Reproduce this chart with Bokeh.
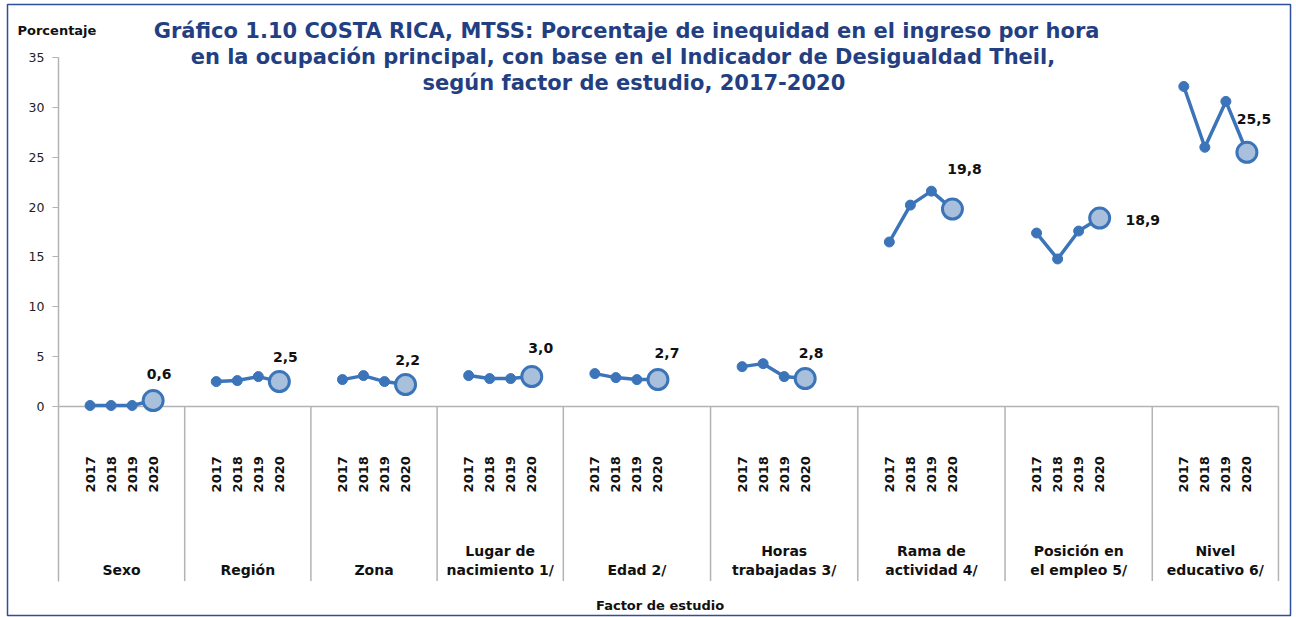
from bokeh.plotting import figure
from bokeh.models import Range1d, FixedTicker, ColumnDataSource, Label, LinearAxis
from bokeh.core.properties import value
from bokeh.embed import file_html
from bokeh.resources import INLINE
import math

# ---------------- data ----------------
groups = ["Sexo", "Región", "Zona", "Lugar de\nnacimiento 1/", "Edad 2/",
          "Horas\ntrabajadas 3/", "Rama de\nactividad 4/", "Posición en\nel empleo 5/",
          "Nivel\neducativo 6/"]
years = ["2017", "2018", "2019", "2020"]
v_sexo = [0.1, 0.1, 0.1, 0.6]
v_region = [2.5, 2.6, 3.0, 2.5]
v_zona = [2.7, 3.1, 2.5, 2.2]
v_lugar = [3.1, 2.8, 2.8, 3.0]
v_edad = [3.3, 2.9, 2.7, 2.7]
v_horas = [4.0, 4.3, 3.0, 2.8]
v_rama = [16.5, 20.2, 21.6, 19.8]
v_posicion = [17.4, 14.8, 17.6, 18.9]
v_nivel = [32.1, 26.0, 30.6, 25.5]
series = [v_sexo, v_region, v_zona, v_lugar, v_edad, v_horas, v_rama, v_posicion, v_nivel]
y_ticks = [0, 5, 10, 15, 20, 25, 30, 35]

# ---------------- layout / style ----------------
slots_per_group = [6, 6, 6, 6, 7, 7, 7, 7, 6]
first_slot = 1
label_dx = [6, 6, 2, 9, 9, 6, 12, 43, 7]
label_dy = [27, 25, 25, 29, 27, 26, 40, -2, 33]

LINE = "#3b74b9"
FILL_BIG = "#a9c0dc"
GRAY = "#b3b3b3"
FONT = value("DejaVu Sans")

starts = []
s = 0
for n in slots_per_group:
    starts.append(s)
    s += n
total_slots = s

Y_MIN, Y_MAX = -17.5, 35

p = figure(width=1296, height=617, output_backend="svg", toolbar_location=None,
           x_range=Range1d(-2.4246, 58.572), y_range=Range1d(-20.96, 40.32),
           min_border_left=7, min_border_right=6, min_border_top=4, min_border_bottom=2,
           x_axis_location=None, y_axis_location=None)
p.outline_line_color = "#2f4f9a"
p.outline_line_width = 1.5
p.xgrid.visible = False
p.ygrid.visible = False
p.background_fill_color = "white"
p.border_fill_color = "white"

ax = LinearAxis(fixed_location=0, bounds=(Y_MIN, Y_MAX), ticker=FixedTicker(ticks=y_ticks))
ax.axis_line_color = GRAY
ax.axis_line_width = 1.5
ax.major_tick_line_color = GRAY
ax.major_tick_out = 6
ax.major_tick_in = 0
ax.minor_tick_line_color = None
ax.major_label_text_font = "DejaVu Sans"
ax.major_label_text_font_size = "12.5px"
ax.major_label_text_color = "#222222"
ax.major_label_standoff = 8
p.add_layout(ax, "left")

# horizontal axis line at 0 and group separators
p.segment(x0=[0], y0=[0], x1=[total_slots], y1=[0], line_color=GRAY, line_width=1.5)
sep_x = [starts[i] + slots_per_group[i] for i in range(len(groups))]
p.segment(x0=sep_x, y0=[0] * len(sep_x), x1=sep_x, y1=[Y_MIN] * len(sep_x),
          line_color=GRAY, line_width=1.5)

# series
yr_x, yr_t = [], []
lab_x, lab_y, lab_t, lab_dx, lab_dy = [], [], [], [], []
grp_x = []
for gi, vals in enumerate(series):
    xs = [starts[gi] + first_slot + k + 0.5 for k in range(len(years))]
    p.line(xs, vals, line_color=LINE, line_width=3.5)
    p.scatter(xs[:-1], vals[:-1], size=10, fill_color=LINE, line_color=LINE)
    p.scatter([xs[-1]], [vals[-1]], size=20, fill_color=FILL_BIG, line_color=LINE, line_width=3)
    yr_x += xs
    yr_t += years
    lab_x.append(xs[-1])
    lab_y.append(vals[-1])
    lab_t.append(f"{vals[-1]:.1f}".replace(".", ","))
    lab_dx.append(label_dx[gi])
    lab_dy.append(-label_dy[gi])
    grp_x.append(starts[gi] + slots_per_group[gi] / 2)

src = ColumnDataSource(dict(x=lab_x, y=lab_y, t=lab_t, dx=lab_dx, dy=lab_dy))
p.text(x="x", y="y", text="t", x_offset="dx", y_offset="dy", source=src,
       text_font=FONT, text_font_style="bold", text_font_size="14px",
       text_color="#111111", text_align="center", text_baseline="middle")

# year labels (rotated)
p.text(x=yr_x, y=[-6.8] * len(yr_x), text=yr_t, angle=math.pi / 2,
       text_font=FONT, text_font_style="bold", text_font_size="13px",
       text_color="#111111", text_align="center", text_baseline="middle")

# group labels
p.text(x=grp_x, y=[-17.2] * len(grp_x), text=groups,
       text_font=FONT, text_font_style="bold", text_font_size="14px",
       text_color="#111111", text_align="center", text_baseline="bottom",
       text_line_height=1.2)

# titles
title_lines = ["Gráfico 1.10  COSTA RICA, MTSS:  Porcentaje de inequidad  en el ingreso por hora",
               "en la ocupación  principal,  con base en el Indicador  de Desigualdad  Theil,",
               "según factor de estudio,  2017-2020"]
for i, t in enumerate(title_lines):
    p.add_layout(Label(x=27.53, y=37.7 - 2.65 * i, text=t, text_align="center",
                       text_baseline="middle", text_font="DejaVu Sans",
                       text_font_style="bold", text_font_size="21px", text_color="#233f82"))

p.add_layout(Label(x=-1.95, y=37.7, text="Porcentaje", text_align="left",
                   text_baseline="middle", text_font="DejaVu Sans",
                   text_font_style="bold", text_font_size="13px", text_color="#111111"))
p.add_layout(Label(x=28.6, y=-19.95, text="Factor de estudio", text_align="center",
                   text_baseline="middle", text_font="DejaVu Sans",
                   text_font_style="bold", text_font_size="13px", text_color="#111111"))

open("out.html", "w").write(file_html(p, INLINE))
